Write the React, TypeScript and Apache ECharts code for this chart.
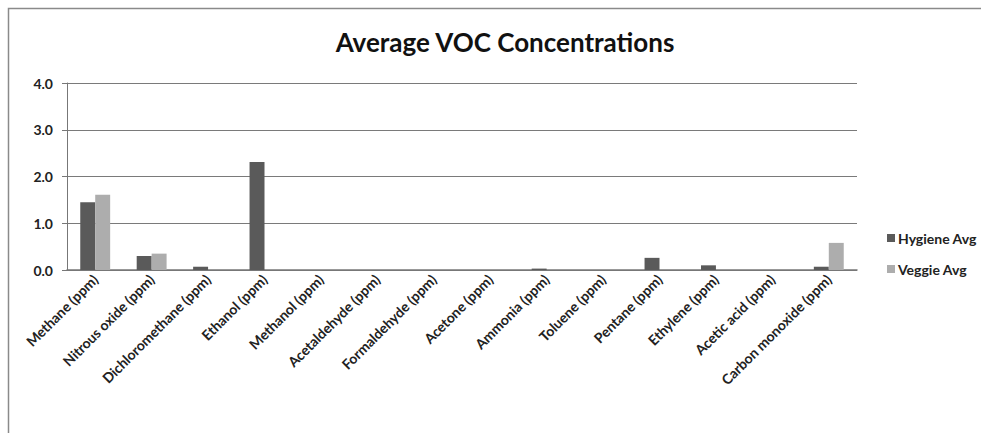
import React, { useEffect, useRef } from "react";
import * as echarts from "echarts";

const categories = [
  "Methane (ppm)",
  "Nitrous oxide (ppm)",
  "Dichloromethane (ppm)",
  "Ethanol (ppm)",
  "Methanol (ppm)",
  "Acetaldehyde (ppm)",
  "Formaldehyde (ppm)",
  "Acetone (ppm)",
  "Ammonia (ppm)",
  "Toluene (ppm)",
  "Pentane (ppm)",
  "Ethylene (ppm)",
  "Acetic acid (ppm)",
  "Carbon monoxide (ppm)",
];
const hygieneAvg = [1.45, 0.3, 0.07, 2.31, 0, 0, 0, 0, 0.03, 0, 0.26, 0.1, 0, 0.07];
const veggieAvg = [1.61, 0.35, 0, 0, 0, 0, 0, 0, 0, 0, 0, 0, 0, 0.58];

const FONT = "Lato, 'Open Sans', sans-serif";

export default function App() {
  const ref = useRef<HTMLDivElement>(null);
  useEffect(() => {
    if (!ref.current) return;
    const chart = echarts.init(ref.current, undefined, { renderer: "svg" });
    chart.setOption({
      animation: false,
      backgroundColor: "#ffffff",
      textStyle: { fontFamily: FONT },
      title: {
        text: "Average VOC Concentrations",
        left: 500,
        top: 24,
        textAlign: "center",
        textStyle: { fontFamily: FONT, fontSize: 26, fontWeight: "bold", color: "#111" },
      },
      graphic: [
        {
          type: "rect",
          shape: { x: 8.5, y: 8.5, width: 1000, height: 500 },
          style: { fill: "none", stroke: "#8a8a8a", lineWidth: 1.5 },
          silent: true,
        },
      ],
      legend: {
        orient: "vertical",
        left: 882,
        top: 226,
        itemWidth: 8,
        itemHeight: 8,
        itemGap: 17,
        icon: "rect",
        textStyle: { fontFamily: FONT, fontSize: 14, fontWeight: "bold", color: "#222", padding: [0, 0, 0, -2] },
        data: ["Hygiene Avg", "Veggie Avg"],
      },
      grid: { left: 67, right: 124, top: 83, bottom: 163, containLabel: false },
      xAxis: {
        type: "category",
        data: categories,
        axisLine: { show: true, lineStyle: { color: "#777", width: 1.5 } },
        axisTick: { show: false },
        axisLabel: {
          rotate: 45,
          interval: 0,
          fontFamily: FONT,
          fontSize: 14,
          fontWeight: "bold",
          color: "#222",
          margin: 7,
        },
      },
      yAxis: {
        type: "value",
        min: 0,
        max: 4,
        interval: 1,
        axisLine: { show: true, lineStyle: { color: "#777", width: 1 } },
        axisTick: { show: true, length: 5, lineStyle: { color: "#777" } },
        splitLine: { show: true, lineStyle: { color: "#7a7a7a", width: 1.2 } },
        axisLabel: {
          formatter: (v: number) => v.toFixed(1),
          fontFamily: FONT,
          fontSize: 14,
          fontWeight: "bold",
          color: "#222",
          margin: 14,
        },
      },
      series: [
        {
          name: "Hygiene Avg",
          type: "bar",
          data: hygieneAvg,
          itemStyle: { color: "#5a5a5a" },
          barGap: "0%",
          barCategoryGap: "47%",
        },
        {
          name: "Veggie Avg",
          type: "bar",
          data: veggieAvg,
          itemStyle: { color: "#adadad" },
          barGap: "0%",
          barCategoryGap: "47%",
        },
      ],
    });
    return () => chart.dispose();
  }, []);
  return (
    <div
      ref={ref}
      style={{ position: "absolute", left: 0, top: 0, width: 981, height: 433 }}
    />
  );
}
